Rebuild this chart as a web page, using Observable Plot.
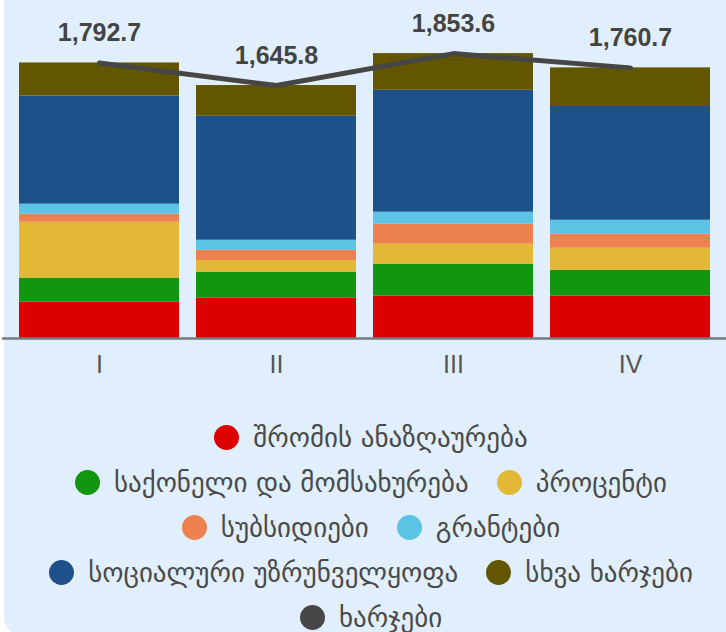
<!DOCTYPE html>
<html>
<head>
<meta charset="utf-8">
<script src="https://cdn.jsdelivr.net/npm/d3@7"></script>
<script src="https://cdn.jsdelivr.net/npm/@observablehq/plot@0.6"></script>
<style>
  html, body { margin: 0; padding: 0; background: #ffffff; }
  body { width: 726px; height: 632px; position: relative; overflow: hidden; }
  #panel {
    position: absolute; left: 4px; top: -20px; width: 760px; height: 654px;
    background: #e1effc; border-radius: 16px;
  }
  #chart { position: absolute; left: 0; top: 0; }
  #legend {
    position: absolute; left: 0; top: 415px; width: 742px;
    font-family: "DejaVu Sans", sans-serif; font-size: 27px; color: #4a4a4a;
  }
  .row { display: flex; justify-content: center; align-items: center; height: 45px; white-space: nowrap; }
  .item { display: flex; align-items: center; margin: 0 14px; }
  .swatch { width: 25px; height: 25px; border-radius: 50%; margin-right: 14px; flex: none; }
</style>
</head>
<body>
<div id="panel"></div>
<div id="chart"></div>
<div id="legend"></div>
<script>
// Quarters on the x axis
const quarters = ["I", "II", "III", "IV"];

// Expenditure components (million GEL), stacked bottom to top
const categories = [
  "შრომის ანაზღაურება",
  "საქონელი და მომსახურება",
  "პროცენტი",
  "სუბსიდიები",
  "გრანტები",
  "სოციალური უზრუნველყოფა",
  "სხვა ხარჯები"
];
const colors = ["#dd0000", "#12960f", "#e3b837", "#ed8150", "#5bc4e5", "#1e5089", "#625600"];

const compensation = [236.4, 262.1, 275.3, 275.0];
const goodsServices = [156.2, 169.0, 208.1, 169.3];
const interest = [364.1, 76.2, 130.2, 143.1];
const subsidies = [52.0, 67.1, 130.0, 91.2];
const grants = [65.3, 65.0, 78.1, 90.8];
const socialSecurity = [703.5, 806.6, 793.4, 740.0];
const otherExpenses = [215.2, 199.8, 238.5, 251.3];

// Total expenditure line
const totalName = "ხარჯები";
const totalColor = "#464646";
const totals = [1792.7, 1645.8, 1853.6, 1760.7];

const series = [compensation, goodsServices, interest, subsidies, grants, socialSecurity, otherExpenses];
const rows = [];
categories.forEach((c, i) => quarters.forEach((q, j) => rows.push({quarter: q, category: c, value: series[i][j]})));
const totalRows = quarters.map((q, j) => ({quarter: q, total: totals[j]}));
const fmt = d3.format(",.1f");

const chart = Plot.plot({
  width: 726,
  height: 392,
  marginLeft: 10.5,
  marginRight: 7.5,
  marginTop: 30.6,
  marginBottom: 54,
  style: {background: "transparent", fontFamily: "'Liberation Sans', Arial, sans-serif"},
  x: {domain: quarters, paddingInner: 0.096, paddingOuter: 0.048, label: null},
  y: {domain: [0, 2000], axis: null},
  color: {domain: categories, range: colors},
  marks: [
    Plot.barY(rows, {x: "quarter", y: "value", fill: "category", order: categories}),
    Plot.ruleY([0], {stroke: "#777b80", strokeWidth: 2.5, insetLeft: -8.5, insetRight: -8}),
    Plot.line(totalRows, {x: "quarter", y: "total", stroke: totalColor, strokeWidth: 5}),
    Plot.text(totalRows, {
      x: "quarter", y: "total", text: d => fmt(d.total), dy: -30,
      fill: "#444444", fontSize: 25, fontWeight: "bold"
    }),
    Plot.axisX({tickSize: 0, tickPadding: 17, fontSize: 25, fill: "#555555", label: null})
  ]
});
document.getElementById("chart").appendChild(chart);

// Legend laid out in centred rows
const legendRows = [[0], [1, 2], [3, 4], [5, 6], [7]];
const entries = categories.map((c, i) => ({name: c, color: colors[i]})).concat([{name: totalName, color: totalColor}]);
const legend = document.getElementById("legend");
legendRows.forEach(r => {
  const row = document.createElement("div");
  row.className = "row";
  r.forEach(k => {
    const item = document.createElement("div");
    item.className = "item";
    const sw = document.createElement("span");
    sw.className = "swatch";
    sw.style.background = entries[k].color;
    const label = document.createElement("span");
    label.textContent = entries[k].name;
    item.appendChild(sw);
    item.appendChild(label);
    row.appendChild(item);
  });
  legend.appendChild(row);
});
</script>
</body>
</html>
